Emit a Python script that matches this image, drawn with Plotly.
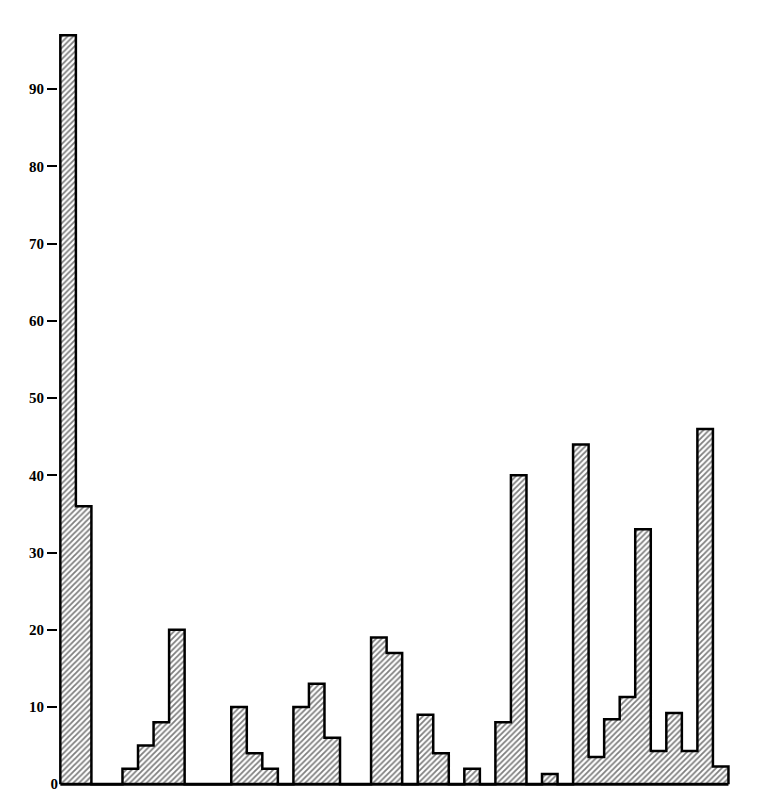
import plotly.graph_objects as go

# Histogram bins (index of each bin, unit width) and their heights
bin_index = list(range(43))
heights = [97, 36, 0, 0, 2, 5, 8, 20, 0, 0,
           0, 10, 4, 2, 0, 10, 13, 6, 0, 0,
           19, 17, 0, 9, 4, 0, 2, 0, 8, 40,
           0, 1.3, 0, 44, 3.5, 8.4, 11.3, 33, 4.3, 9.2,
           4.3, 46, 2.3]
tick_values = [10, 20, 30, 40, 50, 60, 70, 80, 90]
tick_labels = ["10", "20", "30", "40", "50", "60", "70", "80", "90"]
zero_value = [0]
zero_label = ["0"]

# step outline: left edge of each bin, closed down to zero at both ends
edges = bin_index + [bin_index[-1] + 1]
step_x = [edges[0]] + edges
step_y = [0] + heights + [0]

fig = go.Figure()
fig.add_trace(go.Scatter(
    x=step_x, y=step_y, mode="lines", line_shape="hv",
    line=dict(color="black", width=2.5),
    fill="tozeroy", fillcolor="white",
    fillpattern=dict(shape="/", fgcolor="black", bgcolor="white",
                     size=4, solidity=0.45),
    hoverinfo="skip", showlegend=False,
))
# baseline along the bottom of the histogram
fig.add_trace(go.Scatter(
    x=[edges[0], edges[-1]], y=[0, 0], mode="lines",
    line=dict(color="black", width=3), yaxis="y2",
    hoverinfo="skip", showlegend=False,
))

font = dict(family="Liberation Serif, DejaVu Serif, serif", size=15,
            color="black", weight="bold")

fig.update_layout(
    width=752, height=787,
    margin=dict(l=49.7, r=15.8, t=4, b=7),
    paper_bgcolor="white", plot_bgcolor="white",
    xaxis=dict(range=[-0.15, 44], showgrid=False, zeroline=False,
               showline=False, showticklabels=False, ticks="",
               automargin=False),
    yaxis=dict(range=[-0.5, 100], showgrid=False, zeroline=False,
               showline=False, tickvals=tick_values, ticktext=tick_labels,
               ticks="outside", ticklen=10, tickwidth=2, tickcolor="black",
               tickfont=font, automargin=False),
    yaxis2=dict(range=[-0.5, 100], overlaying="y", side="left",
                showgrid=False, zeroline=False, showline=False,
                tickvals=zero_value, ticktext=zero_label, ticks="",
                ticklabelstandoff=-1,
                tickfont=font, automargin=False),
)

fig.write_html("out.html")
